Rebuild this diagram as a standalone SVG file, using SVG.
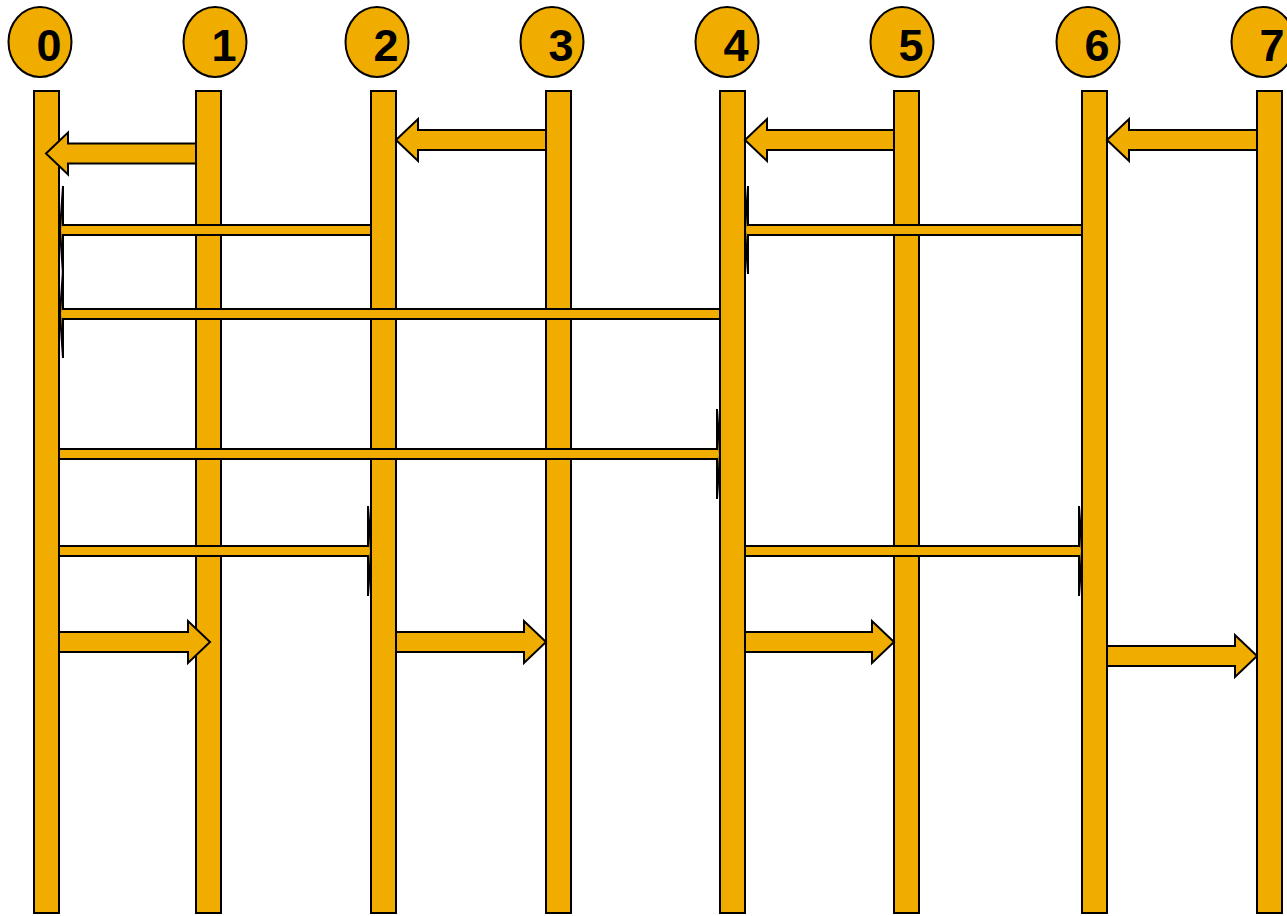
<svg xmlns="http://www.w3.org/2000/svg" width="1287" height="916" viewBox="0 0 1287 916">
<style>
.o{fill:#f0ad00;stroke:#000;stroke-width:2}
.t{font-family:"Liberation Sans",Arial,sans-serif;font-weight:bold;font-size:45px;fill:#000;text-anchor:middle}
.a{fill:#f0ad00;stroke:#000;stroke-width:2;stroke-linejoin:miter}
.s{fill:#f0ad00;stroke:#000;stroke-width:2;stroke-linejoin:miter;stroke-miterlimit:4}
</style>
<rect width="1287" height="916" fill="#fff"/>
<g id="node0"><ellipse class="o" cx="40" cy="42" rx="31.5" ry="35"/><text class="t" x="49" y="61">0</text><rect class="o" x="34" y="91" width="25" height="822"/></g>
<g id="node1"><ellipse class="o" cx="215" cy="42" rx="31.5" ry="35"/><text class="t" x="224" y="61">1</text><rect class="o" x="196" y="91" width="25" height="822"/></g>
<g id="node2"><ellipse class="o" cx="377" cy="42" rx="31.5" ry="35"/><text class="t" x="386" y="61">2</text><rect class="o" x="371" y="91" width="25" height="822"/></g>
<g id="node3"><ellipse class="o" cx="552" cy="42" rx="31.5" ry="35"/><text class="t" x="561" y="61">3</text><rect class="o" x="546" y="91" width="25" height="822"/></g>
<g id="node4"><ellipse class="o" cx="727" cy="42" rx="31.5" ry="35"/><text class="t" x="736" y="61">4</text><rect class="o" x="720" y="91" width="25" height="822"/></g>
<g id="node5"><ellipse class="o" cx="902" cy="42" rx="31.5" ry="35"/><text class="t" x="911" y="61">5</text><rect class="o" x="894" y="91" width="25" height="822"/></g>
<g id="node6"><ellipse class="o" cx="1088" cy="42" rx="31.5" ry="35"/><text class="t" x="1097" y="61">6</text><rect class="o" x="1082" y="91" width="25" height="822"/></g>
<g id="node7"><ellipse class="o" cx="1263" cy="42" rx="31.5" ry="35"/><text class="t" x="1272" y="61">7</text><rect class="o" x="1257" y="91" width="25" height="822"/></g>
<g id="connectors">
<polygon class="a" points="46,153.5 68,132.5 68,143.5 196,143.5 196,163.5 68,163.5 68,174.5"/>
<polygon class="a" points="396,140 418,119 418,130 546,130 546,150 418,150 418,161"/>
<polygon class="a" points="745,140 767,119 767,130 894,130 894,150 767,150 767,161"/>
<polygon class="a" points="1107,140 1129,119 1129,130 1257,130 1257,150 1129,150 1129,161"/>
<polygon class="a" points="210,642 188,621 188,632 59,632 59,652 188,652 188,663"/>
<polygon class="a" points="546,642 524,621 524,632 396,632 396,652 524,652 524,663"/>
<polygon class="a" points="894,642 872,621 872,632 745,632 745,652 872,652 872,663"/>
<polygon class="a" points="1257,656 1235,635 1235,646 1107,646 1107,666 1235,666 1235,677"/>
<polygon class="s" points="60,230 63,186 63,225 371,225 371,235 63,235 63,274"/>
<polygon class="s" points="745,230 748,186 748,225 1082,225 1082,235 748,235 748,274"/>
<polygon class="s" points="60,314 63,270 63,309 720,309 720,319 63,319 63,358"/>
<polygon class="s" points="720,454 717,409 717,449 59,449 59,459 717,459 717,499"/>
<polygon class="s" points="371,551 368,506 368,546 59,546 59,556 368,556 368,596"/>
<polygon class="s" points="1082,551 1079,506 1079,546 745,546 745,556 1079,556 1079,596"/>
</g>
</svg>
